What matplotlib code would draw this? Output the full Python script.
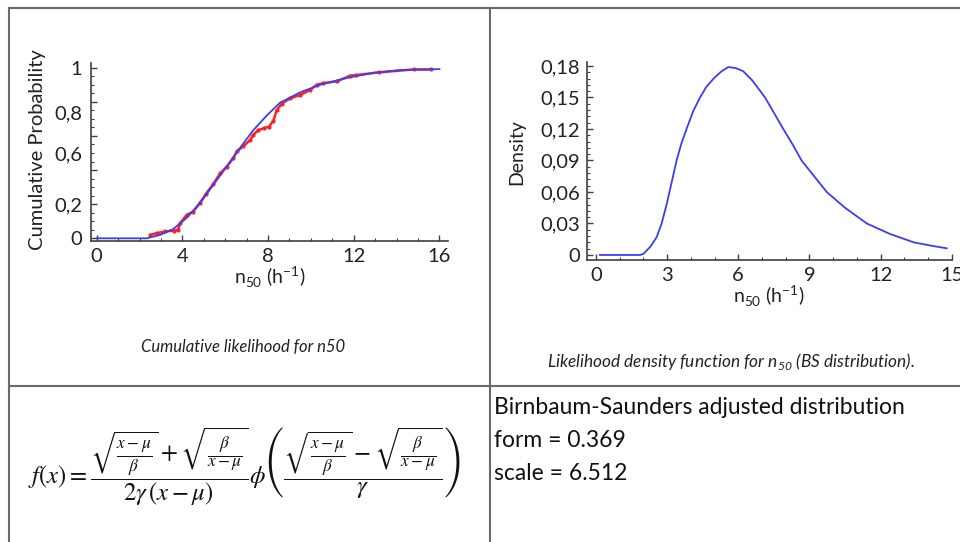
import numpy as np
import matplotlib
matplotlib.use("Agg")
import matplotlib.pyplot as plt
from matplotlib.lines import Line2D
from matplotlib.ticker import MultipleLocator, FuncFormatter

plt.rcParams['font.family'] = ['Lato', 'DejaVu Sans']

# ---- data ----
# left panel: fitted cumulative curve (blue) and empirical points (red)
cdf_fit_x = [0.0, 2.33, 2.96, 3.58, 4.2, 4.82, 5.45, 6.07, 6.69, 7.32, 7.94,
             8.56, 9.49, 10.43, 11.67, 12.9, 14.16, 16.0]
cdf_fit_y = [0.0, 0.0, 0.02, 0.055, 0.12, 0.205, 0.315, 0.42, 0.53, 0.635, 0.72,
             0.795, 0.855, 0.9, 0.94, 0.97, 0.986, 0.992]
cdf_emp_x = [2.5, 2.8, 3.2, 3.6, 3.8, 3.9, 4.2, 4.5, 4.8, 5.1, 5.45, 5.76, 6.07,
             6.38, 6.54, 6.85, 7.16, 7.3, 7.55, 7.8, 8.05, 8.25, 8.4, 8.64, 9.03,
             9.5, 9.96, 10.27, 10.58, 11.2, 11.83, 12.1, 13.2, 14.8, 15.6]
cdf_emp_y = [0.02, 0.03, 0.04, 0.045, 0.05, 0.09, 0.137, 0.156, 0.205, 0.26, 0.32,
             0.38, 0.42, 0.47, 0.51, 0.54, 0.576, 0.605, 0.635, 0.645, 0.655, 0.69,
             0.75, 0.79, 0.82, 0.84, 0.87, 0.9, 0.91, 0.92, 0.953, 0.957, 0.973,
             0.99, 0.99]
cdf_ytick_pos = [0, 0.2, 0.5, 0.74, 1]
cdf_ytick_lab = ["0", "0,2", "0,6", "0,8", "1"]
cdf_xticks = [0, 4, 8, 12, 16]

# right panel: density curve
pdf_x = [0.17, 1.86, 2.0, 2.3, 2.56, 2.77, 3.0, 3.2, 3.4, 3.6, 3.82, 4.1, 4.39,
         4.65, 5.0, 5.3, 5.58, 5.9, 6.21, 6.6, 7.13, 7.9, 8.3, 8.67, 9.2, 9.73,
         10.5, 11.42, 12.4, 13.4, 14.1, 14.79]
pdf_y = [0.0, 0.0, 0.001, 0.008, 0.017, 0.03, 0.05, 0.07, 0.09, 0.106, 0.12,
         0.137, 0.15, 0.16, 0.169, 0.175, 0.179, 0.178, 0.175, 0.166, 0.15, 0.12,
         0.105, 0.09, 0.075, 0.06, 0.045, 0.03, 0.02, 0.012, 0.009, 0.0063]
pdf_xticks = [0, 3, 6, 9, 12, 15]
pdf_yticks = [0, 0.03, 0.06, 0.09, 0.12, 0.15, 0.18]

caption_left = "Cumulative likelihood for n50"
caption_right = "Likelihood density function for n$_\\mathregular{50}$ (BS distribution)."
fit_lines = ["Birnbaum-Saunders adjusted distribution", "form = 0.369", "scale = 6.512"]
formula = (r"$f(x)=\dfrac{\sqrt{\frac{x-\mu}{\beta}}+\sqrt{\frac{\beta}{x-\mu}}}"
           r"{2\gamma\,(x-\mu)}\phi\left(\dfrac{\sqrt{\frac{x-\mu}{\beta}}-"
           r"\sqrt{\frac{\beta}{x-\mu}}}{\gamma}\right)$")
xlab = "n$_\\mathregular{50}$ (h$^\\mathregular{-1}$)"

W, H = 960, 542
fig = plt.figure(figsize=(W / 100, H / 100), dpi=100)

def fx(px):
    return px / W

def fy(py):
    return 1 - py / H

# table grid
grid = dict(color="#6a6a6a", lw=1.5, transform=fig.transFigure)
fig.add_artist(Line2D([fx(9), 1], [fy(7.5), fy(7.5)], **grid))
fig.add_artist(Line2D([fx(9), fx(9)], [fy(7.5), 0], **grid))
fig.add_artist(Line2D([fx(490), fx(490)], [fy(7.5), 0], **grid))
fig.add_artist(Line2D([fx(9), 1], [fy(386), fy(386)], **grid))

comma = FuncFormatter(lambda v, p: ("%g" % v).replace(".", ","))
TICK_FS = 14.5

def style(ax):
    for s in ["top", "right"]:
        ax.spines[s].set_visible(False)
    for s in ["left", "bottom"]:
        ax.spines[s].set_color("#404040")
        ax.spines[s].set_linewidth(1.2)
    ax.tick_params(which="major", direction="in", length=4, width=1, color="#404040",
                   labelsize=TICK_FS, pad=5, labelcolor="#222222")
    ax.tick_params(which="minor", direction="in", length=2.5, width=0.8, color="#404040")

# left plot
ax1 = fig.add_axes([fx(90.7), fy(240.7), fx(448 - 90.7), (240.7 - 63.3) / H])
ax1.plot(cdf_emp_x, cdf_emp_y, color="#ff2020", lw=1.8, marker="o", ms=2)
ax1.plot(cdf_fit_x, cdf_fit_y, color="#3b3bff", lw=1.3)
ax1.set_xlim(-0.28, 16.4)
ax1.set_ylim(-0.014, 1.026)
style(ax1)
ax1.set_xticks(cdf_xticks)
ax1.xaxis.set_minor_locator(MultipleLocator(1))
ax1.set_yticks(np.arange(0, 1.01, 0.2))
ax1.set_yticklabels([])
ax1.yaxis.set_minor_locator(MultipleLocator(0.05))
sec = ax1.secondary_yaxis("left")
sec.set_yticks(cdf_ytick_pos, cdf_ytick_lab)
sec.tick_params(length=0, labelsize=TICK_FS, pad=6, labelcolor="#222222")
sec.spines["left"].set_visible(False)
ax1.set_xlabel(xlab, fontsize=14, labelpad=0, color="#222222")
fig.text(fx(38), fy(150), "Cumulative Probability", rotation=90, ha="center",
         va="center", fontsize=14.5, color="#222222")

# right plot
ax2 = fig.add_axes([fx(586.7), fy(260), fx(951.7 - 586.7), (260 - 61.7) / H])
ax2.plot(pdf_x, pdf_y, color="#3b3bff", lw=1.3)
ax2.set_xlim(-0.39, 15.0)
ax2.set_ylim(-0.0048, 0.1841)
style(ax2)
ax2.set_xticks(pdf_xticks)
ax2.xaxis.set_minor_locator(MultipleLocator(1))
ax2.set_yticks(pdf_yticks)
ax2.yaxis.set_major_formatter(comma)
ax2.yaxis.set_minor_locator(MultipleLocator(0.006))
ax2.set_xlabel(xlab, fontsize=14, labelpad=0, color="#222222")
fig.text(fx(517), fy(152), "Density", rotation=90, ha="center", va="center",
         fontsize=14, color="#222222")

# captions
fig.text(fx(243), fy(347), caption_left, ha="center", va="center", fontsize=12,
         style="italic", color="#222222")
fig.text(fx(731), fy(362), caption_right, ha="center", va="center", fontsize=12.4,
         style="italic", color="#222222")

# bottom row
fig.text(fx(245), fy(466), formula, ha="center", va="center", fontsize=17.8,
         math_fontfamily="stix", color="#111111")
for i, line in enumerate(fit_lines):
    fig.text(fx(494), fy(408 + 32.5 * i), line, ha="left", va="center", fontsize=16.5,
             color="#111111")

fig.savefig("out.png", dpi=100, facecolor="white")
